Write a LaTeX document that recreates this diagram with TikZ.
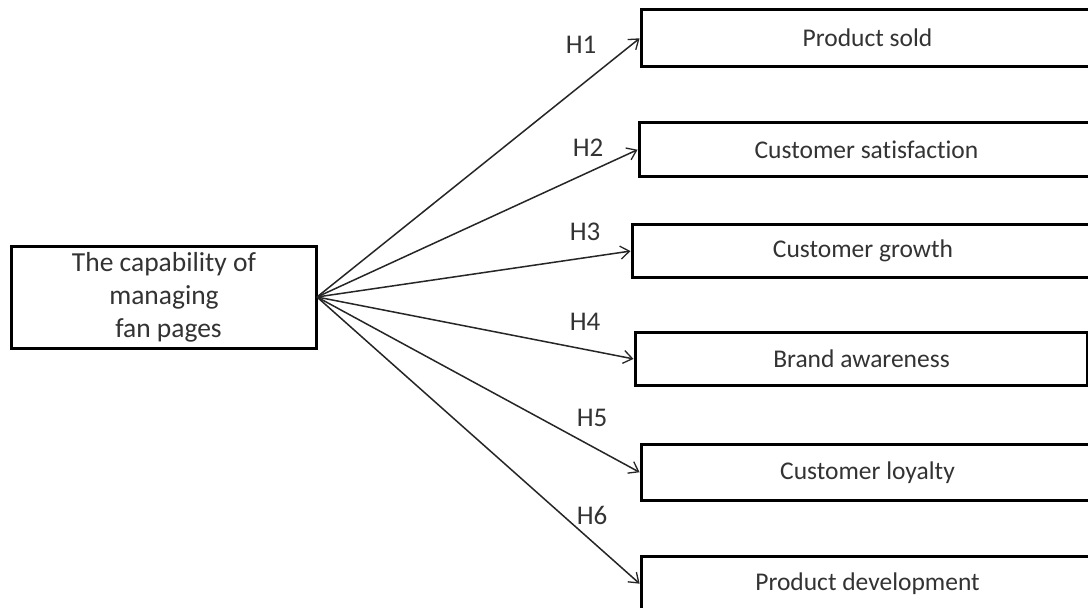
\documentclass[tikz,border=0pt]{standalone}
\usepackage{fontspec}
\setmainfont{Carlito}[Ligatures=NoCommon]
\usetikzlibrary{arrows.meta}
\definecolor{txt}{HTML}{333333}
\begin{document}
\begin{tikzpicture}[x=1pt,y=-1pt,
  box/.style={draw=black, line width=3pt, text=txt, inner sep=0pt, anchor=north west},
  rbox/.style={box, font=\fontsize{25.5}{30}\selectfont},
  conn/.style={draw=black!85, line width=1.5pt, -{Straight Barb[length=9pt,width=13pt,line width=1.3pt]}, shorten >=0.5pt},
  hlab/.style={text=txt, font=\fontsize{27}{32}\selectfont, inner sep=0pt}]
\useasboundingbox (0,0) rectangle (1088,608);
\fill[white] (0,0) rectangle (1088,608);
\node[box, minimum width=305pt, minimum height=102pt, align=center,
  font=\fontsize{27.5}{33}\selectfont] (src) at (10,245)
  {The capability of\\managing\\\hspace*{9pt}fan pages};
\node[rbox, minimum width=452pt, minimum height=57pt] (b1) at (640,8) {Product sold};
\node[rbox, minimum width=454pt, minimum height=54pt] (b2) at (638,121) {Customer satisfaction};
\node[rbox, minimum width=461pt, minimum height=53pt] (b3) at (631,223) {Customer growth};
\node[rbox, minimum width=452pt, minimum height=53pt] (b4) at (634,331) {Brand awareness};
\node[rbox, minimum width=452pt, minimum height=56pt] (b5) at (640,443) {Customer loyalty};
\node[rbox, minimum width=452pt, minimum height=55pt] (b6) at (640,555) {Product development};
\coordinate (s) at (317,297);
\foreach \b in {b1,b2,b3,b4,b5,b6} \draw[conn] (s) -- (\b.west);
\node[hlab] (h1) at (581,45) {H1};
\node[hlab] (h2) at (588,148) {H2};
\node[hlab] (h3) at (585,232) {H3};
\node[hlab] (h4) at (585,322) {H4};
\node[hlab] (h5) at (592,418) {H5};
\node[hlab] (h6) at (592,515) {H6};
\end{tikzpicture}
\end{document}
